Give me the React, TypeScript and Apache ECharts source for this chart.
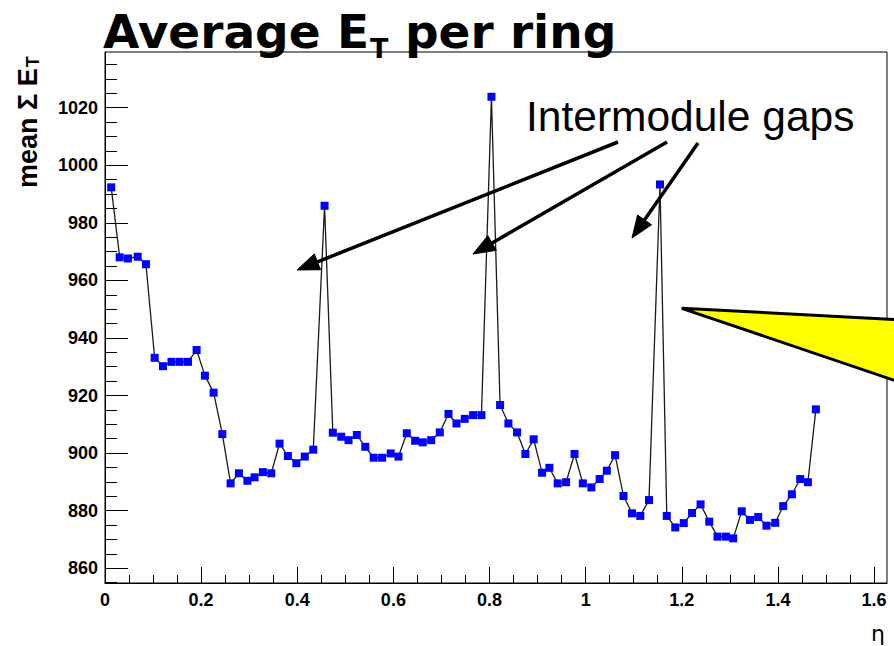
import React, { useEffect, useRef } from "react";
import * as echarts from "echarts";

// eta of each ring
const ETA = [
  0.0129, 0.0306, 0.0478, 0.068, 0.0852, 0.1033, 0.1206, 0.1383, 0.1553, 0.1726,
  0.1906, 0.2079, 0.226, 0.2441, 0.2613, 0.2786, 0.2963, 0.3112, 0.3285, 0.3459,
  0.3632, 0.3805, 0.3981, 0.4156, 0.4333, 0.4568, 0.474, 0.4915, 0.5067, 0.5239,
  0.5416, 0.559, 0.5765, 0.5944, 0.6106, 0.6279, 0.6453, 0.6611, 0.6786, 0.6965,
  0.7146, 0.7312, 0.7484, 0.7659, 0.7832, 0.804, 0.822, 0.8393, 0.8574, 0.8746,
  0.8919, 0.9094, 0.9245, 0.9418, 0.9593, 0.9769, 0.9942, 1.0119, 1.0291, 1.0441,
  1.0613, 1.0788, 1.0965, 1.1137, 1.1318, 1.1547, 1.1688, 1.1865, 1.2042, 1.2214,
  1.2391, 1.2572, 1.2744, 1.2919, 1.3071, 1.3247, 1.342, 1.359, 1.3763, 1.3944,
  1.411, 1.4291, 1.4464, 1.4624, 1.479,
];

// mean sum E_T per ring
const MEAN_ET = [
  992.3, 968, 967.6, 968.2, 965.6, 933.1, 930.2, 931.7, 931.7, 931.7,
  935.8, 926.9, 921, 906.6, 889.5, 893, 890.4, 891.6, 893.4, 893,
  903.3, 899, 896.5, 898.8, 901.2, 985.9, 907.1, 905.7, 904.5, 906.3,
  902.2, 898.4, 898.4, 899.9, 898.8, 906.9, 904.3, 903.75, 904.5, 907.2,
  913.6, 910.3, 911.9, 913.2, 913.2, 1023.75, 916.7, 910.3, 907.2, 899.7,
  904.8, 893.2, 894.9, 889.5, 889.9, 899.7, 889.5, 888.1, 891, 893.9,
  899.3, 885.1, 879.1, 878.2, 883.7, 993.3, 878.2, 874.2, 875.7, 879.2,
  882.2, 876.2, 871, 871, 870.4, 879.8, 876.8, 877.8, 874.8, 875.8,
  881.6, 885.7, 891, 889.9, 915.2,
];

const X_MAJOR = [0, 0.2, 0.4, 0.6, 0.8, 1, 1.2, 1.4, 1.6];
const Y_MAJOR = [860, 880, 900, 920, 940, 960, 980, 1000, 1020];

const X_MIN = 0;
const X_MAX = 1.627;
const Y_MIN = 854.9;
const Y_MAX = 1039.3;

function minorTicks(start: number, end: number, step: number, majors: number[]) {
  const out: number[] = [];
  for (let v = start; v <= end + 1e-9; v += step) {
    const r = Math.round(v * 1000) / 1000;
    if (!majors.some((m) => Math.abs(m - r) < 1e-6)) out.push(r);
  }
  return out;
}

const X_MINOR = minorTicks(0.05, 1.6, 0.05, X_MAJOR);
const Y_MINOR = minorTicks(855, 1035, 5, Y_MAJOR);

function measure(text: string, font: string) {
  const c = document.createElement("canvas");
  const ctx = c.getContext("2d");
  if (!ctx) return text.length * 10;
  ctx.font = font;
  return ctx.measureText(text).width;
}

function arrow(x1: number, y1: number, x2: number, y2: number) {
  const dx = x2 - x1;
  const dy = y2 - y1;
  const len = Math.sqrt(dx * dx + dy * dy);
  const ux = dx / len;
  const uy = dy / len;
  const hl = 22;
  const hw = 8.5;
  const bx = x2 - ux * hl;
  const by = y2 - uy * hl;
  return [
    {
      type: "line",
      z: 100,
      shape: { x1, y1, x2: bx + ux * 2, y2: by + uy * 2 },
      style: { stroke: "#000", lineWidth: 3.5 },
    },
    {
      type: "polygon",
      z: 100,
      shape: {
        points: [
          [x2, y2],
          [bx - uy * hw, by + ux * hw],
          [bx + uy * hw, by - ux * hw],
        ],
      },
      style: { fill: "#000", stroke: "#000", lineWidth: 1 },
    },
  ];
}

export default function App() {
  const ref = useRef<HTMLDivElement>(null);
  useEffect(() => {
    if (!ref.current) return;
    const chart = echarts.init(ref.current, null, { renderer: "svg" });
    const labelFont = {
      fontFamily: "Liberation Sans",
      fontWeight: "bold" as const,
      fontSize: 18,
      color: "#000",
    };

    // title pieces
    const TF = "DejaVu Sans";
    const titleSize = 47;
    const subSize = 27;
    const t1 = "Average E";
    const t3 = " per ring";
    const w1 = measure(t1, `bold ${titleSize}px '${TF}'`);
    const wT = measure("T", `bold ${subSize}px '${TF}'`);
    const titleX = 103;
    const titleMid = 31.5;
    const subMid = 48.5;

    // y-axis title pieces
    const YF = "Liberation Sans";
    const ySize = 27;
    const ySub = 18;
    const y1 = "mean Σ E";
    const wy1 = measure(y1, `bold ${ySize}px '${YF}'`);
    const yBottom = 188;
    const yMidX = 27.5;
    const ySubMidX = 33;

    const textBase = (font: string, size: number) => ({
      fontFamily: font,
      fontWeight: "bold",
      fontSize: size,
      fill: "#000",
      textVerticalAlign: "middle",
    });

    const option: any = {
      animation: false,
      backgroundColor: "#fff",
      grid: {
        left: 105,
        top: 52,
        right: 7,
        bottom: 63,
        show: true,
        borderColor: "#000",
        borderWidth: 1,
        backgroundColor: "transparent",
      },
      xAxis: [
        {
          type: "value",
          min: X_MIN,
          max: X_MAX,
          position: "bottom",
          axisLine: { show: true, lineStyle: { color: "#000", width: 1 } },
          axisTick: {
            show: true,
            inside: true,
            length: 16,
            customValues: X_MAJOR,
            lineStyle: { color: "#000", width: 1 },
          },
          axisLabel: {
            ...labelFont,
            customValues: X_MAJOR,
            margin: 8,
            formatter: (v: number) => String(v),
          },
          splitLine: { show: false },
        },
        {
          type: "value",
          min: X_MIN,
          max: X_MAX,
          position: "bottom",
          axisLine: { show: false },
          axisTick: {
            show: true,
            inside: true,
            length: 8,
            customValues: X_MINOR,
            lineStyle: { color: "#000", width: 1 },
          },
          axisLabel: { show: false },
          splitLine: { show: false },
        },
      ],
      yAxis: [
        {
          type: "value",
          min: Y_MIN,
          max: Y_MAX,
          position: "left",
          axisLine: { show: true, lineStyle: { color: "#000", width: 1 } },
          axisTick: {
            show: true,
            inside: true,
            length: 23,
            customValues: Y_MAJOR,
            lineStyle: { color: "#000", width: 1 },
          },
          axisLabel: {
            ...labelFont,
            customValues: Y_MAJOR,
            margin: 7,
            formatter: (v: number) => String(v),
          },
          splitLine: { show: false },
        },
        {
          type: "value",
          min: Y_MIN,
          max: Y_MAX,
          position: "left",
          axisLine: { show: false },
          axisTick: {
            show: true,
            inside: true,
            length: 12,
            customValues: Y_MINOR,
            lineStyle: { color: "#000", width: 1 },
          },
          axisLabel: { show: false },
          splitLine: { show: false },
        },
      ],
      series: [
        {
          type: "line",
          xAxisIndex: 0,
          yAxisIndex: 0,
          data: ETA.map((e, i) => [e, MEAN_ET[i]]),
          symbol: "rect",
          symbolSize: 8,
          showSymbol: true,
          itemStyle: { color: "#0000ff" },
          lineStyle: { color: "#1a1a1a", width: 1.3 },
          z: 5,
        },
      ],
      graphic: [
        {
          type: "text",
          z: 100,
          x: titleX,
          y: titleMid,
          style: { ...textBase(TF, titleSize), text: t1, textAlign: "left" },
        },
        {
          type: "text",
          z: 100,
          x: titleX + w1 + 1,
          y: subMid,
          style: { ...textBase(TF, subSize), text: "T", textAlign: "left" },
        },
        {
          type: "text",
          z: 100,
          x: titleX + w1 + 1 + wT,
          y: titleMid,
          style: { ...textBase(TF, titleSize), text: t3, textAlign: "left" },
        },
        {
          type: "text",
          z: 100,
          x: yMidX,
          y: yBottom,
          rotation: Math.PI / 2,
          style: { ...textBase(YF, ySize), text: y1, textAlign: "left" },
        },
        {
          type: "text",
          z: 100,
          x: ySubMidX,
          y: yBottom - wy1 - 1,
          rotation: Math.PI / 2,
          style: { ...textBase(YF, ySub), text: "T", textAlign: "left" },
        },
        {
          type: "text",
          z: 100,
          x: 878,
          y: 633,
          style: {
            text: "η",
            fontFamily: "DejaVu Sans",
            fontSize: 22,
            textAlign: "center",
            textVerticalAlign: "middle",
            fill: "#000",
          },
        },
        {
          type: "text",
          z: 100,
          x: 526,
          y: 116,
          style: {
            text: "Intermodule gaps",
            fontFamily: "Liberation Sans",
            fontSize: 42.5,
            textAlign: "left",
            textVerticalAlign: "middle",
            fill: "#000",
          },
        },
        ...arrow(618, 142, 297, 270),
        ...arrow(667, 142, 473, 254),
        ...arrow(698, 143, 632, 238),
        {
          type: "polygon",
          z: 100,
          shape: {
            points: [
              [681.7, 308.3],
              [900, 319.7],
              [900, 382.3],
            ],
          },
          style: { fill: "#ffff00", stroke: "#000", lineWidth: 3, lineJoin: "miter" },
        },
      ],
    };
    chart.setOption(option);
    return () => chart.dispose();
  }, []);
  return (
    <div
      ref={ref}
      style={{ position: "fixed", left: 0, top: 0, width: 894, height: 646 }}
    />
  );
}
